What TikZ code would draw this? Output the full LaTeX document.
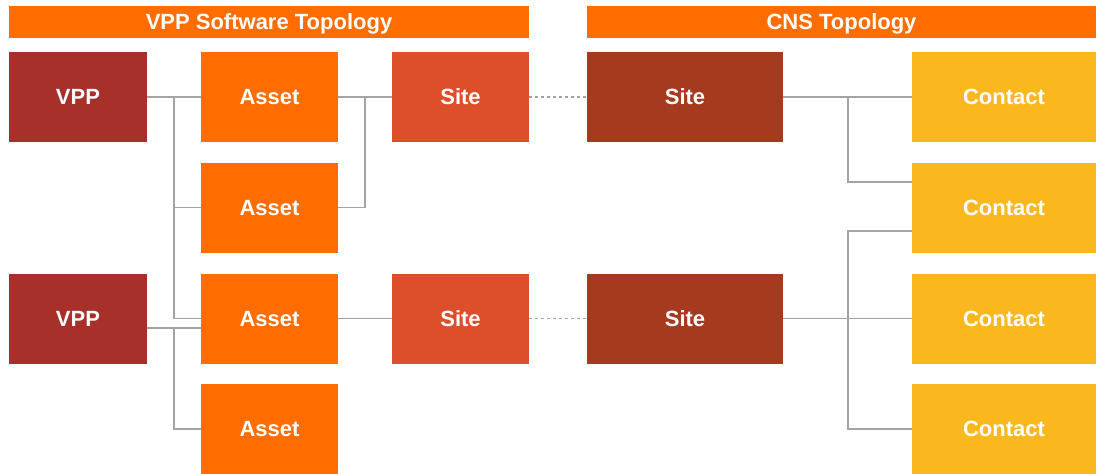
\documentclass[tikz,border=0pt]{standalone}
\usepackage{fontspec}
\setmainfont{Liberation Sans}
\begin{document}
\begin{tikzpicture}[x=1pt,y=-1pt,
  box/.style={draw=none,inner sep=0pt,minimum height=90pt,text height=15.8pt,text depth=0pt,text=white,font=\fontsize{22}{26}\selectfont\bfseries},
  hdr/.style={inner sep=0pt,minimum height=32pt,text height=15.8pt,text depth=0pt,fill=hdrc,text=white,font=\fontsize{22}{26}\selectfont\bfseries},
  conn/.style={draw=linec,line width=1.1pt},
  dconn/.style={conn,dash pattern=on 3pt off 3pt}]
\definecolor{hdrc}{HTML}{FF6D00}
\definecolor{vppc}{HTML}{A8302B}
\definecolor{assetc}{HTML}{FF6D00}
\definecolor{sitec}{HTML}{DD4F2B}
\definecolor{cnsc}{HTML}{A63A1E}
\definecolor{contc}{HTML}{FBB81E}
\definecolor{linec}{HTML}{A3A3A3}
\useasboundingbox (0,0) rectangle (1096,474);
\node[hdr,minimum width=520pt] (h1) at (269,22) {VPP Software Topology};
\node[hdr,minimum width=509pt] (h2) at (841.5,22) {CNS Topology};
% VPP
\node[box,fill=vppc,minimum width=138pt] (v1) at (78,97) {VPP};
\node[box,fill=vppc,minimum width=138pt] (v2) at (78,318.5) {VPP};
% Assets
\node[box,fill=assetc,minimum width=137pt] (a1) at (269.5,97) {Asset};
\node[box,fill=assetc,minimum width=137pt] (a2) at (269.5,207.5) {Asset};
\node[box,fill=assetc,minimum width=137pt] (a3) at (269.5,318.5) {Asset};
\node[box,fill=assetc,minimum width=137pt] (a4) at (269.5,429) {Asset};
% Sites
\node[box,fill=sitec,minimum width=137pt] (s1) at (460.5,97) {Site};
\node[box,fill=sitec,minimum width=137pt] (s2) at (460.5,318.5) {Site};
\node[box,fill=cnsc,minimum width=196pt] (c1) at (685,97) {Site};
\node[box,fill=cnsc,minimum width=196pt] (c2) at (685,318.5) {Site};
% Contacts
\node[box,fill=contc,minimum width=184pt] (k1) at (1004,97) {Contact};
\node[box,fill=contc,minimum width=184pt] (k2) at (1004,207.5) {Contact};
\node[box,fill=contc,minimum width=184pt] (k3) at (1004,318.5) {Contact};
\node[box,fill=contc,minimum width=184pt] (k4) at (1004,429) {Contact};
% bus coordinates
\coordinate (bv) at (174,0);
\coordinate (ba) at (365,0);
\coordinate (bc) at (848,0);
% VPP -> Asset
\draw[conn] (v1.east) -- (a1.west);
\draw[conn] (v1.east -| bv) |- (a2.west);
\draw[conn] (v1.east -| bv) |- (a3.west);
\coordinate (v2o) at ([yshift=-9.5pt]v2.east);
\coordinate (a3o) at ([yshift=-9.5pt]a3.west);
\draw[conn] (v2o) -- (a3o);
\draw[conn] (v2o -| bv) |- (a4.west);
% Asset -> Site
\draw[conn] (a1.east) -- (s1.west);
\draw[conn] (a1.east -| ba) |- (a2.east);
\draw[conn] (a3.east) -- (s2.west);
% Site -> CNS Site
\draw[dconn] (s1.east) -- (c1.west);
\draw[dconn] (s2.east) -- (c2.west);
% CNS Site -> Contact
\draw[conn] (c1.east) -- (k1.west);
\coordinate (k2u) at ([yshift=25.5pt]k2.west);
\coordinate (k2d) at ([yshift=-23.5pt]k2.west);
\draw[conn] (c1.east -| bc) |- (k2u);
\draw[conn] (c2.east) -- (k3.west);
\draw[conn] (k2d) -| (c2.east -| bc) |- (k4.west);
\end{tikzpicture}
\end{document}
